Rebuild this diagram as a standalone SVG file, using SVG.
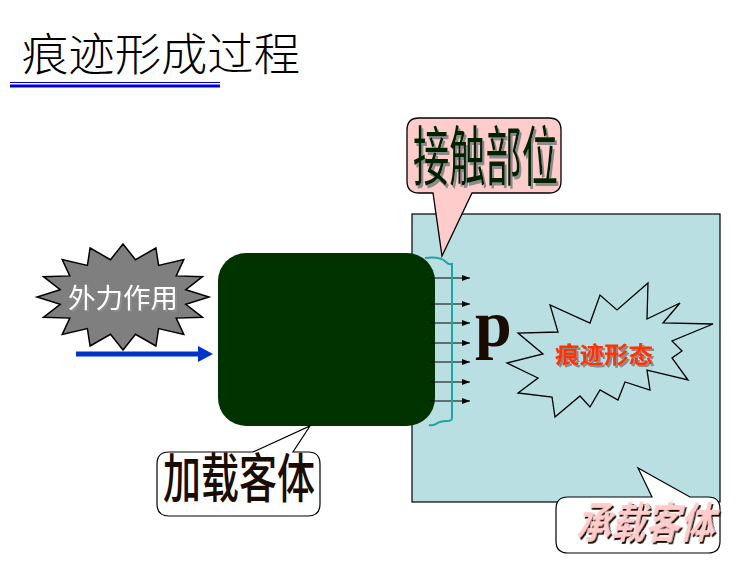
<svg xmlns="http://www.w3.org/2000/svg" width="738" height="569" viewBox="0 0 738 569">
<style>
.cjk{font-family:"Noto Sans CJK SC","Noto Sans",sans-serif;}
.out{stroke:#000;stroke-width:1.3;}
.pt{stroke:#000;stroke-width:1.2;}
</style>
<defs>
<marker id="ah" markerWidth="8" markerHeight="6" refX="8" refY="3" orient="auto" markerUnits="userSpaceOnUse">
<path d="M0,0 L8,3 L0,6 Z" fill="#000"/>
</marker>
<filter id="shGray" x="-10%" y="-20%" width="130%" height="150%">
<feOffset in="SourceAlpha" dx="1.5" dy="1.5" result="o"/>
<feFlood flood-color="#8a8a8a"/>
<feComposite in2="o" operator="in" result="s"/>
<feMerge><feMergeNode in="s"/><feMergeNode in="SourceGraphic"/></feMerge>
</filter>
<filter id="shDark" x="-10%" y="-20%" width="130%" height="150%">
<feOffset in="SourceAlpha" dx="2" dy="2" result="o"/>
<feFlood flood-color="#1a0a00"/>
<feComposite in2="o" operator="in" result="s"/>
<feMerge><feMergeNode in="s"/><feMergeNode in="SourceGraphic"/></feMerge>
</filter>
</defs>
<rect width="738" height="569" fill="#fff"/>
<g id="title">
<text class="cjk" x="22" y="71" font-size="45" font-weight="300" fill="#000" textLength="278" lengthAdjust="spacingAndGlyphs">痕迹形成过程</text>
<line x1="10" y1="82.5" x2="220" y2="82.5" stroke="#0000cc" stroke-width="1"/>
<line x1="10" y1="86" x2="220" y2="86" stroke="#0000cc" stroke-width="3"/>
</g>
<g id="carrier-body">
<rect x="412" y="214" width="308" height="288" fill="#b9dfe3" stroke="#000" stroke-width="1.2"/>
</g>
<g id="load-body">
<rect x="218" y="253" width="217" height="173" rx="28" fill="#003300"/>
</g>
<g id="connectors">
<line x1="76" y1="354" x2="200" y2="354" stroke="#0033cc" stroke-width="5"/>
<path d="M198,346 L213,354 L198,362 Z" fill="#0033cc"/>
<g stroke="#000" stroke-width="1" marker-end="url(#ah)">
<line x1="430" y1="278" x2="470" y2="278"/>
<line x1="430" y1="304" x2="470" y2="304"/>
<line x1="430" y1="323" x2="470" y2="323"/>
<line x1="430" y1="343" x2="470" y2="343"/>
<line x1="430" y1="362" x2="470" y2="362"/>
<line x1="430" y1="382" x2="470" y2="382"/>
<line x1="430" y1="401" x2="470" y2="401"/>
</g>
<path d="M425,258 Q440,256 446,262 Q449,265 452,264 L452,418 Q452,421 447,421 Q440,421 436,424 Q432,426 429,425" fill="none" stroke="#1fa3a3" stroke-width="2"/>
</g>
<g id="force">
<polygon points="209,297 185.8,304.4 202.5,317.3 176.2,318.1 183.8,334.5 158.6,328.6 155.9,346 135.5,334.3 123,350 110.5,334.3 90.1,346 87.4,328.6 62.2,334.5 69.8,318.1 43.5,317.3 60.2,304.4 37,297 60.2,289.6 43.5,276.7 69.8,275.9 62.2,259.5 87.4,265.4 90.1,248 110.5,259.7 123,244 135.5,259.7 155.9,248 158.6,265.4 183.8,259.5 176.2,275.9 202.5,276.7 185.8,289.6" fill="#7f7f7f" stroke="#000" stroke-width="1.5"/>
<text class="cjk" x="123" y="308" font-size="27.5" fill="#fff" text-anchor="middle" textLength="110" lengthAdjust="spacingAndGlyphs" filter="url(#shGray)">外力作用</text>
</g>
<g id="p-label">
<text x="475" y="346" font-family="Liberation Serif,serif" font-weight="bold" font-size="66" fill="#1a0a00">p</text>
</g>
<g id="trace">
<polygon points="648,283 647,319 680,303 663,323 713,324 672,341 682,351 672,358 688,380 647,370 650,390 625,382 618,400 600,390 590,407 580,396 555,417 552,397 518,393 538,378 507,363 543,354 518,333 558,332 550,305 590,323 600,295 617,310" fill="none" stroke="#000" stroke-width="1.3"/>
<text class="cjk" x="604" y="363" font-size="23" font-weight="bold" fill="#ff3300" text-anchor="middle" textLength="98" lengthAdjust="spacingAndGlyphs" filter="url(#shGray)">痕迹形态</text>
</g>
<g id="contact">
<path d="M419,118 L549,118 Q561,118 561,130 L561,181 Q561,193 549,193 L472,193 L442,256 L433,193 L419,193 Q407,193 407,181 L407,130 Q407,118 419,118 Z" fill="#ffcccc" class="out"/>
<g transform="translate(413,180) scale(1,1.75)">
<text class="cjk" x="0" y="0" font-size="37" fill="#062006" textLength="145" lengthAdjust="spacingAndGlyphs" filter="url(#shGray)">接触部位</text>
</g>
</g>
<g id="load">
<path d="M169,452 L253,452 L310,426 L293,452 L308,452 Q320,452 320,464 L320,504 Q320,516 308,516 L169,516 Q157,516 157,504 L157,464 Q157,452 169,452 Z" fill="#fff" class="pt"/>
<g transform="translate(163,498) scale(1,1.4)">
<text class="cjk" x="0" y="0" font-size="38" font-weight="500" fill="#1a0d00" textLength="152" lengthAdjust="spacingAndGlyphs">加载客体</text>
</g>
</g>
<g id="carrier">
<path d="M568,497 L652,497 L638,468 L690,497 L708,497 Q720,497 720,509 L720,541 Q720,553 708,553 L568,553 Q556,553 556,541 L556,509 Q556,497 568,497 Z" fill="#fff" class="pt"/>
<g transform="translate(576,538) skewX(-14) scale(1,1.2)">
<text class="cjk" x="0" y="0" font-size="35" font-weight="bold" fill="#ffcccc" textLength="138" lengthAdjust="spacingAndGlyphs" filter="url(#shDark)">承载客体</text>
</g>
</g>
</svg>
